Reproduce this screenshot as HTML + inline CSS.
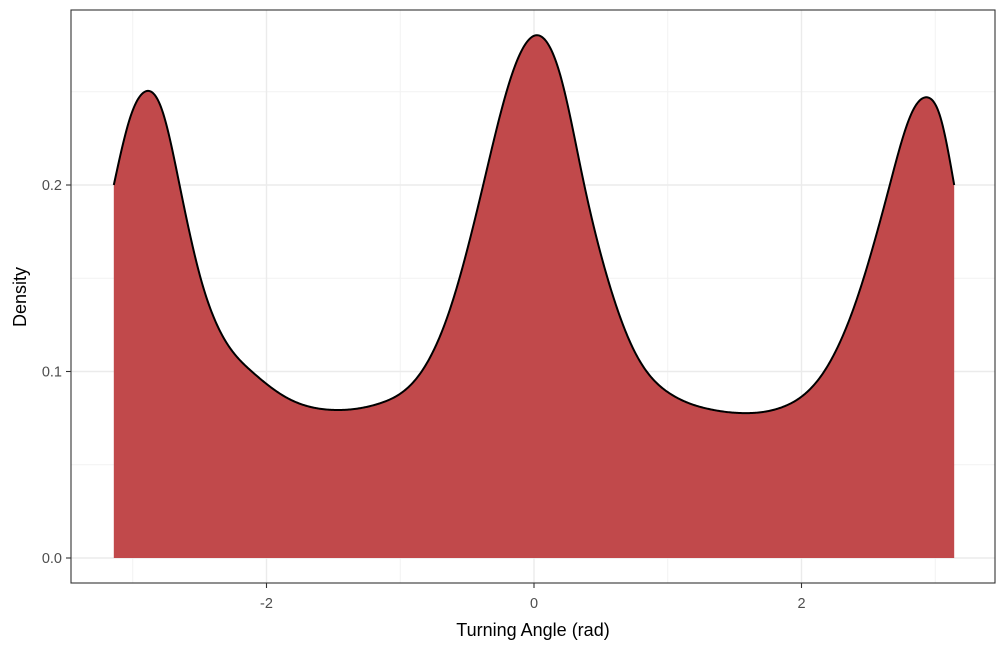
<!DOCTYPE html>
<html><head><meta charset="utf-8"><style>
body{margin:0;background:#fff;font-family:"Liberation Sans",sans-serif}
</style></head><body>
<svg id="chart" width="1008" height="648" xmlns="http://www.w3.org/2000/svg">
<g id="grid"></g>
<path id="area" fill="#C1494B" stroke="none"/>
<path id="line" fill="none" stroke="#000" stroke-width="2"/>
<rect x="71" y="10" width="924" height="573" fill="none" stroke="#333" stroke-width="1.1"/>
<g id="axes" font-size="14.5" fill="#4D4D4D"></g>
<text x="533" y="636" text-anchor="middle" font-size="18" fill="#000">Turning Angle (rad)</text>
<text transform="translate(26,297) rotate(-90)" text-anchor="middle" font-size="18" fill="#000">Density</text>
</svg>
<script>
const xs=[-3.1416,-3.02,-2.91,-2.78,-2.65,-2.50,-2.35,-2.11,-1.85,-1.50,-1.15,-0.85,-0.63,-0.38,-0.18,0,0.20,0.37,0.55,0.75,1.02,1.30,1.56,1.86,2.16,2.40,2.66,2.82,2.94,3.04,3.1416];
const ys=[0.200,0.236,0.250,0.240,0.200,0.152,0.122,0.100,0.086,0.0794,0.083,0.099,0.133,0.200,0.256,0.280,0.258,0.202,0.150,0.111,0.088,0.080,0.0777,0.081,0.099,0.136,0.200,0.238,0.247,0.236,0.200];
const xTicks=[-2,0,2], xMinor=[-3,-1,1,3];
const yTicks=[0,0.1,0.2], yMinor=[0.05,0.15,0.25];
const X=v=>534+v*133.75, Y=v=>558-v*1865;
const ns="http://www.w3.org/2000/svg";
const grid=document.getElementById('grid'), axes=document.getElementById('axes');
function ln(p,x1,y1,x2,y2,c,w,name){const l=document.createElementNS(ns,'line');
l.setAttribute('x1',x1);l.setAttribute('y1',y1);l.setAttribute('x2',x2);l.setAttribute('y2',y2);
l.setAttribute('stroke',c);l.setAttribute('stroke-width',w);


p.appendChild(l);}
function tx(x,y,s,a,name){const t=document.createElementNS(ns,'text');t.setAttribute('x',x);t.setAttribute('y',y);t.setAttribute('text-anchor',a);t.textContent=s;


axes.appendChild(t);}
xMinor.forEach(v=>ln(grid,X(v),10,X(v),583,'#F2F2F2',1,'x-minor-grid'));
yMinor.forEach(v=>ln(grid,71,Y(v),995,Y(v),'#F2F2F2',1,'y-minor-grid'));
xTicks.forEach(v=>{ln(grid,X(v),10,X(v),583,'#EBEBEB',1.4,'x-major-grid');ln(axes,X(v),583,X(v),588,'#333',1.1,'x-tick');tx(X(v),608,String(v),'middle','x-tick-label');});
yTicks.forEach(v=>{ln(grid,71,Y(v),995,Y(v),'#EBEBEB',1.4,'y-major-grid');ln(axes,66,Y(v),71,Y(v),'#333',1.1,'y-tick');tx(62,Y(v)+5,v.toFixed(1),'end','y-tick-label');});
// natural cubic spline through the data
const n=xs.length, h=[], al=[0], l=[1], mu=[0], z=[0], c=new Array(n).fill(0);
for(let i=0;i<n-1;i++)h.push(xs[i+1]-xs[i]);
for(let i=1;i<n-1;i++)al.push(3/h[i]*(ys[i+1]-ys[i])-3/h[i-1]*(ys[i]-ys[i-1]));
for(let i=1;i<n-1;i++){l[i]=2*(xs[i+1]-xs[i-1])-h[i-1]*mu[i-1];mu[i]=h[i]/l[i];z[i]=(al[i]-h[i-1]*z[i-1])/l[i];}
const b=[],dd=[];
for(let j=n-2;j>=0;j--){c[j]=(j>0?z[j]-mu[j]*c[j+1]:0);b[j]=(ys[j+1]-ys[j])/h[j]-h[j]*(c[j+1]+2*c[j])/3;dd[j]=(c[j+1]-c[j])/(3*h[j]);}
c[0]=0;for(let j=0;j<n-1;j++){b[j]=(ys[j+1]-ys[j])/h[j]-h[j]*(c[j+1]+2*c[j])/3;dd[j]=(c[j+1]-c[j])/(3*h[j]);}
const pts=[];
for(let k=0;k<=800;k++){const x=xs[0]+(xs[n-1]-xs[0])*k/800;let j=0;while(j<n-2&&x>xs[j+1])j++;const t=x-xs[j];
pts.push([X(x),Y(ys[j]+b[j]*t+c[j]*t*t+dd[j]*t*t*t)]);}
const d='M'+pts.map(p=>p[0].toFixed(2)+','+p[1].toFixed(2)).join(' L');
document.getElementById('line').setAttribute('d',d);
document.getElementById('area').setAttribute('d','M'+X(xs[0])+','+Y(0)+' L'+d.slice(1)+' L'+X(xs[n-1])+','+Y(0)+'Z');
</script>
</body></html>
